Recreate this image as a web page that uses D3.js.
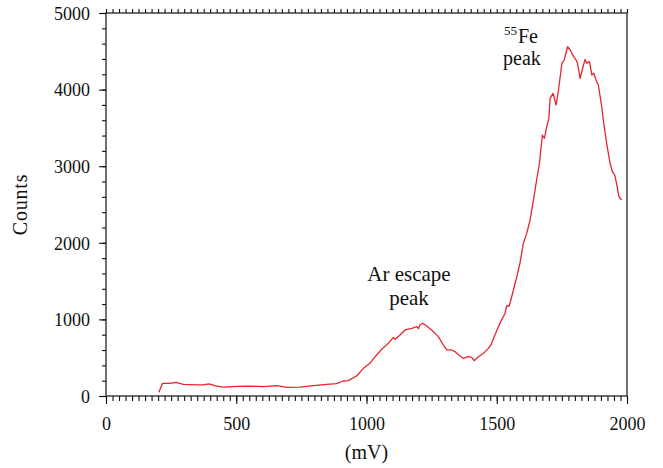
<!DOCTYPE html>
<html>
<head>
<meta charset="utf-8">
<script src="https://cdn.jsdelivr.net/npm/d3@7"></script>
<style>
  body { margin: 0; background: #fff; }
  text { font-family: "Liberation Serif", "DejaVu Serif", serif; fill: #111; }
</style>
</head>
<body>
<div id="chart"></div>
<script>
// 数据: 电压 (mV) 与计数
const voltage = [203, 217, 246, 269, 297, 348, 373, 395, 425, 450, 502, 553, 604, 655, 694, 745, 796, 847, 885, 911,
  930, 962, 988, 1013, 1033, 1058, 1084, 1103, 1110, 1129, 1148, 1174, 1193, 1200, 1205, 1216, 1231, 1250, 1276, 1295,
  1308, 1327, 1340, 1359, 1372, 1391, 1404, 1413, 1430, 1449, 1468, 1478, 1493, 1512, 1532, 1538, 1548, 1564, 1577, 1589,
  1602, 1615, 1628, 1641, 1653, 1664, 1675, 1683, 1692, 1700, 1705, 1716, 1728, 1737, 1750, 1759, 1772, 1782, 1795, 1805,
  1810, 1820, 1833, 1839, 1846, 1856, 1865, 1873, 1881, 1890, 1903, 1909, 1922, 1935, 1944, 1953, 1961, 1969, 1979];
const counts = [48, 165, 165, 178, 152, 144, 144, 157, 130, 117, 126, 130, 122, 135, 113, 117, 135, 152, 161, 196,
  200, 261, 361, 427, 513, 609, 688, 766, 740, 796, 862, 884, 905, 880, 927, 949, 914, 862, 775, 666,
  601, 601, 579, 523, 492, 513, 505, 461, 513, 557, 622, 670, 796, 949, 1080, 1175, 1175, 1384, 1558, 1732,
  1993, 2123, 2298, 2559, 2820, 3038, 3407, 3364, 3516, 3625, 3886, 3951, 3799, 3995, 4343, 4386, 4560, 4517, 4430, 4386,
  4343, 4147, 4321, 4395, 4343, 4365, 4191, 4212, 4125, 4060, 3777, 3603, 3299, 3038, 2928, 2885, 2755, 2602, 2559];
const xTicks = [0, 500, 1000, 1500, 2000];
const yTicks = [0, 1000, 2000, 3000, 4000, 5000];

const width = 663, height = 468;
const margin = { top: 13, right: 36, bottom: 72, left: 106 };
const innerW = width - margin.left - margin.right;
const innerH = height - margin.top - margin.bottom;

const svg = d3.select('#chart').append('svg')
  .attr('width', width)
  .attr('height', height);

const g = svg.append('g')
  .attr('transform', `translate(${margin.left},${margin.top})`);

const x = d3.scaleLinear().domain([0, 2000]).range([0, innerW]);
const y = d3.scaleLinear().domain([0, 5000]).range([innerH, 0]);

// 边框
g.append('rect')
  .attr('width', innerW).attr('height', innerH)
  .attr('fill', 'none').attr('stroke', '#111').attr('stroke-width', 1.2);

// 次刻度 (每 25 mV / 200 counts)
const minorX = d3.range(0, 2001, 25);
const minorY = d3.range(0, 5001, 200);

g.append('g')
  .attr('transform', `translate(0,${innerH})`)
  .call(d3.axisBottom(x).tickValues(minorX).tickSize(5).tickFormat(''))
  .call(a => a.select('.domain').remove());
g.append('g')
  .call(d3.axisTop(x).tickValues(minorX).tickSize(4).tickFormat(''))
  .call(a => a.select('.domain').remove());
g.append('g')
  .call(d3.axisLeft(y).tickValues(minorY).tickSize(4).tickFormat(''))
  .call(a => a.select('.domain').remove());

// 主刻度
const xAxis = g.append('g')
  .attr('transform', `translate(0,${innerH})`)
  .call(d3.axisBottom(x).tickValues(xTicks).tickSize(8).tickPadding(13).tickFormat(d3.format('d')))
  .call(a => a.select('.domain').remove());
const yAxis = g.append('g')
  .call(d3.axisLeft(y).tickValues(yTicks).tickSize(7).tickPadding(9).tickFormat(d3.format('d')))
  .call(a => a.select('.domain').remove());

g.selectAll('.tick line').attr('stroke', '#111').attr('stroke-width', 1.1);
g.selectAll('.tick text')
  .attr('fill', '#111')
  .style('font-family', '"Liberation Serif", serif')
  .style('font-size', '18px');
yAxis.selectAll('.tick text').attr('dy', '0.35em');

// 曲线
const line = d3.line()
  .x((d, i) => x(voltage[i]))
  .y(d => y(d));

g.append('path')
  .datum(counts)
  .attr('fill', 'none')
  .attr('stroke', '#e8242c')
  .attr('stroke-width', 1.3)
  .attr('stroke-linejoin', 'round')
  .attr('d', line);

// 轴标题
svg.append('text')
  .attr('x', margin.left + innerW / 2)
  .attr('y', 459)
  .attr('text-anchor', 'middle')
  .style('font-size', '20px')
  .text('(mV)');

svg.append('text')
  .attr('transform', `translate(27,${margin.top + innerH / 2}) rotate(-90)`)
  .attr('text-anchor', 'middle')
  .style('font-size', '20px')
  .style('letter-spacing', '0.8px')
  .text('Counts');

// 注释
const note = svg.append('g').style('font-size', '21px');
note.append('text').attr('x', 409).attr('y', 281).attr('text-anchor', 'middle').text('Ar escape');
note.append('text').attr('x', 409).attr('y', 305).attr('text-anchor', 'middle').text('peak');

const fe = note.append('text').attr('x', 504).attr('y', 43).style('font-size', '20px');
fe.append('tspan').attr('dy', '-8').style('font-size', '13px').text('55');
fe.append('tspan').attr('dy', '8').attr('dx', '1').text('Fe');
note.append('text').attr('x', 503).attr('y', 65).style('font-size', '20px').text('peak');
</script>
</body>
</html>
